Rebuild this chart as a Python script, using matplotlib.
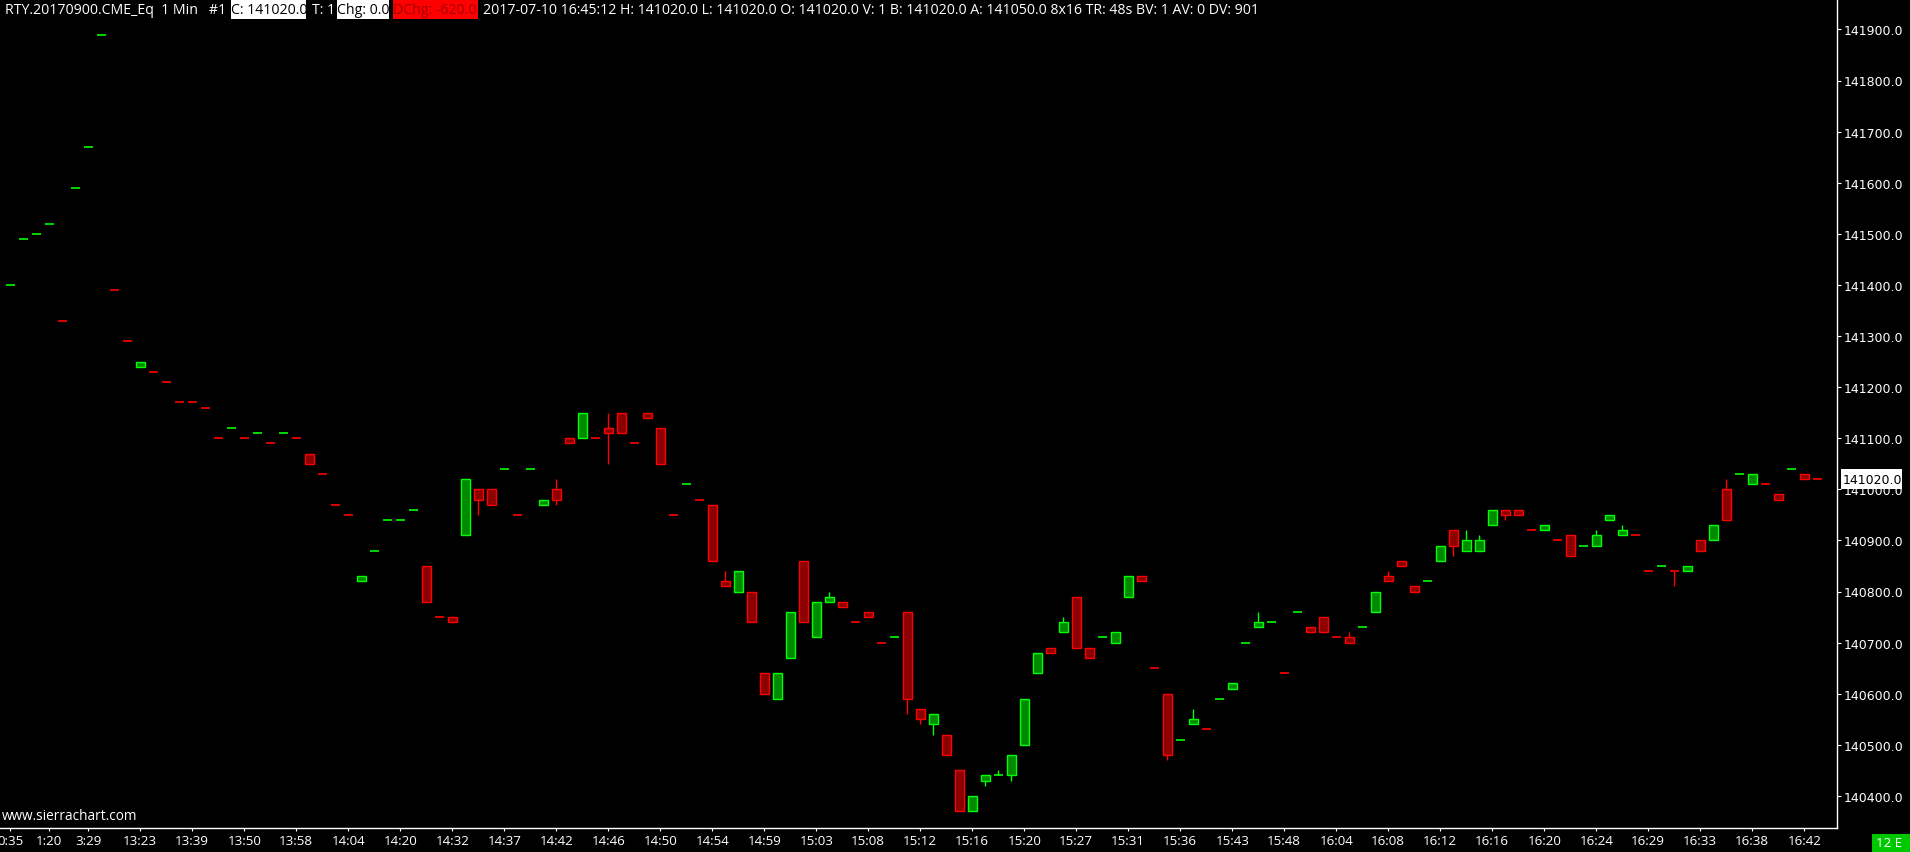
import numpy as np
import matplotlib.pyplot as plt
from matplotlib.patches import Rectangle

W, H = 1910, 853

# 1 min bars, RTY Sep 2017
opens = [141400, 141490, 141500, 141520, 141330, 141590, 141670, 141890, 141390, 141290,
         141240, 141230, 141210, 141170, 141170, 141160, 141100, 141120, 141100, 141110,
         141090, 141110, 141100, 141070, 141030, 140970, 140950, 140820, 140880, 140940,
         140940, 140960, 140850, 140750, 140750, 140910, 141000, 141000, 141040, 140950,
         141040, 140970, 141000, 141100, 141100, 141100, 141120, 141150, 141090, 141150,
         141120, 140950, 141010, 140980, 140970, 140820, 140800, 140800, 140640, 140590,
         140670, 140860, 140710, 140780, 140780, 140740, 140760, 140700, 140710, 140760,
         140570, 140540, 140520, 140450, 140370, 140430, 140440, 140440, 140500, 140640,
         140690, 140720, 140790, 140690, 140710, 140700, 140790, 140830, 140650, 140600,
         140510, 140540, 140530, 140590, 140610, 140700, 140730, 140740, 140640, 140760,
         140730, 140750, 140710, 140710, 140730, 140760, 140830, 140860, 140810, 140820,
         140860, 140920, 140880, 140880, 140930, 140960, 140960, 140920, 140920, 140900,
         140910, 140890, 140890, 140940, 140910, 140910, 140840, 140850, 140840, 140840,
         140900, 140900, 141000, 141030, 141010, 141010, 140990, 141040, 141030, 141020]
highs = [141400, 141490, 141500, 141520, 141330, 141590, 141670, 141890, 141390, 141290,
         141250, 141230, 141210, 141170, 141170, 141160, 141100, 141120, 141100, 141110,
         141090, 141110, 141100, 141070, 141030, 140970, 140950, 140830, 140880, 140940,
         140940, 140960, 140850, 140750, 140750, 141020, 141000, 141000, 141040, 140950,
         141040, 140980, 141020, 141100, 141150, 141100, 141150, 141150, 141090, 141150,
         141120, 140950, 141010, 140980, 140970, 140840, 140840, 140800, 140640, 140640,
         140760, 140860, 140780, 140800, 140780, 140740, 140760, 140700, 140710, 140760,
         140570, 140560, 140520, 140450, 140400, 140440, 140450, 140480, 140590, 140680,
         140690, 140750, 140790, 140690, 140710, 140720, 140830, 140830, 140650, 140600,
         140510, 140570, 140530, 140590, 140620, 140700, 140760, 140740, 140640, 140760,
         140730, 140750, 140710, 140720, 140730, 140800, 140840, 140860, 140810, 140820,
         140890, 140920, 140920, 140910, 140960, 140960, 140960, 140920, 140930, 140900,
         140910, 140890, 140920, 140950, 140930, 140910, 140840, 140850, 140840, 140850,
         140900, 140930, 141020, 141030, 141030, 141010, 140990, 141040, 141030, 141020]
lows = [141400, 141490, 141500, 141520, 141330, 141590, 141670, 141890, 141390, 141290,
        141240, 141230, 141210, 141170, 141170, 141160, 141100, 141120, 141100, 141110,
        141090, 141110, 141100, 141050, 141030, 140970, 140950, 140820, 140880, 140940,
        140940, 140960, 140780, 140750, 140740, 140910, 140950, 140970, 141040, 140950,
        141040, 140970, 140970, 141090, 141100, 141100, 141050, 141110, 141090, 141140,
        141050, 140950, 141010, 140980, 140860, 140810, 140800, 140740, 140600, 140590,
        140670, 140740, 140710, 140780, 140770, 140740, 140750, 140700, 140710, 140560,
        140540, 140520, 140480, 140370, 140370, 140420, 140440, 140430, 140500, 140640,
        140680, 140720, 140690, 140670, 140710, 140700, 140790, 140820, 140650, 140470,
        140510, 140540, 140530, 140590, 140610, 140700, 140730, 140740, 140640, 140760,
        140720, 140720, 140710, 140700, 140730, 140760, 140820, 140850, 140800, 140820,
        140860, 140870, 140880, 140880, 140930, 140940, 140950, 140920, 140920, 140900,
        140870, 140890, 140890, 140940, 140910, 140910, 140840, 140850, 140810, 140840,
        140880, 140900, 140940, 141030, 141010, 141010, 140980, 141040, 141020, 141020]
closes = [141400, 141490, 141500, 141520, 141330, 141590, 141670, 141890, 141390, 141290,
          141250, 141230, 141210, 141170, 141170, 141160, 141100, 141120, 141100, 141110,
          141090, 141110, 141100, 141050, 141030, 140970, 140950, 140830, 140880, 140940,
          140940, 140960, 140780, 140750, 140740, 141020, 140980, 140970, 141040, 140950,
          141040, 140980, 140980, 141090, 141150, 141100, 141110, 141110, 141090, 141140,
          141050, 140950, 141010, 140980, 140860, 140810, 140840, 140740, 140600, 140640,
          140760, 140740, 140780, 140790, 140770, 140740, 140750, 140700, 140710, 140590,
          140550, 140560, 140480, 140370, 140400, 140440, 140440, 140480, 140590, 140680,
          140680, 140740, 140690, 140670, 140710, 140720, 140830, 140820, 140650, 140480,
          140510, 140550, 140530, 140590, 140620, 140700, 140740, 140740, 140640, 140760,
          140720, 140720, 140710, 140700, 140730, 140800, 140820, 140850, 140800, 140820,
          140890, 140890, 140900, 140900, 140960, 140950, 140950, 140920, 140930, 140900,
          140870, 140890, 140910, 140950, 140920, 140910, 140840, 140850, 140840, 140850,
          140880, 140930, 140940, 141030, 141030, 141010, 140980, 141040, 141020, 141020]

tick_bars = [0, 3, 6] + list(range(10, 139, 4))
tick_labels = ["0:35", "1:20", "3:29", "13:23", "13:39", "13:50", "13:58", "14:04", "14:20",
               "14:32", "14:37", "14:42", "14:46", "14:50", "14:54", "14:59", "15:03", "15:08",
               "15:12", "15:16", "15:20", "15:27", "15:31", "15:36", "15:43", "15:48", "16:04",
               "16:08", "16:12", "16:16", "16:20", "16:24", "16:29", "16:33", "16:38", "16:42"]
price_ticks = list(range(140400, 141901, 100))

last_price = closes[-1]
header_main = "RTY.20170900.CME_Eq  1 Min   #1"
header_rest = ("2017-07-10 16:45:12 H: 141020.0 L: 141020.0 O: 141020.0 V: 1 B: 141020.0 "
               "A: 141050.0 8x16 TR: 48s BV: 1 AV: 0 DV: 901")

UP, UP_FILL = "#00ff00", "#008a00"
DN, DN_FILL = "#ff0000", "#8b0000"
ui_font = ["Open Sans", "DejaVu Sans"]

fig = plt.figure(figsize=(W / 100, H / 100), dpi=100, facecolor="black")
ax_right, ax_bottom = 1837, 829
ax = fig.add_axes([0, 1 - ax_bottom / H, ax_right / W, ax_bottom / H])
ax.set_facecolor("black")

# 13 px per bar, price scale 0.511 px per point
bar_px, ppu = 13.0, 0.511
ax.set_xlim(-10.3 / bar_px, (ax_right - 10.3) / bar_px)
ax.set_ylim(141000 - (ax_bottom - 490.3) / ppu, 141000 + 490.3 / ppu)

bw = 9 / bar_px
prev_up = True
for i, (o, h, l, c) in enumerate(zip(opens, highs, lows, closes)):
    if c > o:
        up = True
    elif c < o:
        up = False
    elif i > 0 and c != closes[i - 1]:
        up = c > closes[i - 1]
    else:
        up = prev_up
    prev_up = up
    edge = UP if up else DN
    fill = UP_FILL if up else DN_FILL
    if h > l:
        ax.vlines(i, l, h, color=edge, lw=1.0, zorder=2)
    if o != c:
        ax.add_patch(Rectangle((i - bw / 2, min(o, c)), bw, abs(c - o),
                               facecolor=fill, edgecolor=edge, lw=1.0, zorder=3))
    else:
        ax.hlines(o, i - bw / 2, i + bw / 2, color=edge, lw=1.2, zorder=3)

for s in ["top", "left"]:
    ax.spines[s].set_visible(False)
for s in ["bottom", "right"]:
    ax.spines[s].set_color("white")
    ax.spines[s].set_linewidth(1.0)

ax.yaxis.tick_right()
ax.set_yticks(price_ticks)
ax.set_yticklabels([f"{p:.1f}" for p in price_ticks], fontsize=9, family="DejaVu Sans")
ax.tick_params(axis="y", colors="white", length=3, width=0.8, pad=1.5)
ax.set_xticks(tick_bars)
ax.set_xticklabels(tick_labels, fontsize=9.6, family=ui_font)
ax.tick_params(axis="x", colors="white", length=2.5, width=0.8, pad=2)


def fx(x):
    return x / W


def fy(y):
    return 1 - y / H


def box(x0, x1, y0, y1, color):
    r = Rectangle((fx(x0), fy(y1)), fx(x1) - fx(x0), (y1 - y0) / H,
                  transform=fig.transFigure, facecolor=color, edgecolor="none", zorder=5)
    fig.add_artist(r)
    return r


def label(x, y, s, color, clip=None, **kw):
    t = fig.text(fx(x), fy(y), s, color=color, va="center", ha="left", zorder=6, **kw)
    if clip is not None:
        t.set_clip_path(clip)
    return t


# header line
hdr = dict(fontsize=10.2, family=ui_font)
label(5, 10, header_main, "white", **hdr)
b = box(231, 306, 0, 20, "white")
label(231, 10, f"C: {last_price:.1f}", "black", clip=b, **hdr)
label(312, 10, "T: 1", "white", **hdr)
b = box(337, 389, 0, 20, "white")
label(337, 10, "Chg: 0.0", "black", clip=b, **hdr)
b = box(393, 478, 0, 20, "#ff0000")
label(393, 10, "DChg: -620.0", "#a00000", clip=b, **hdr)
label(483, 10, header_rest, "white", **hdr)

label(2, 817, "www.sierrachart.com", "white", fontsize=9.8, family=ui_font)

# last price marker on the price scale
ly = 490.3 - (last_price - 141000) * ppu
box(1841, 1902, ly - 10, ly + 10, "white")
label(1843, ly, f"{last_price:.1f}", "black", fontsize=9, family="DejaVu Sans")

box(1872, 1910, 835, 853, "#00c800")
label(1876, 844, "12 E", "white", fontsize=9.6, family=ui_font)

fig.savefig("out.png", dpi=100, facecolor="black")
